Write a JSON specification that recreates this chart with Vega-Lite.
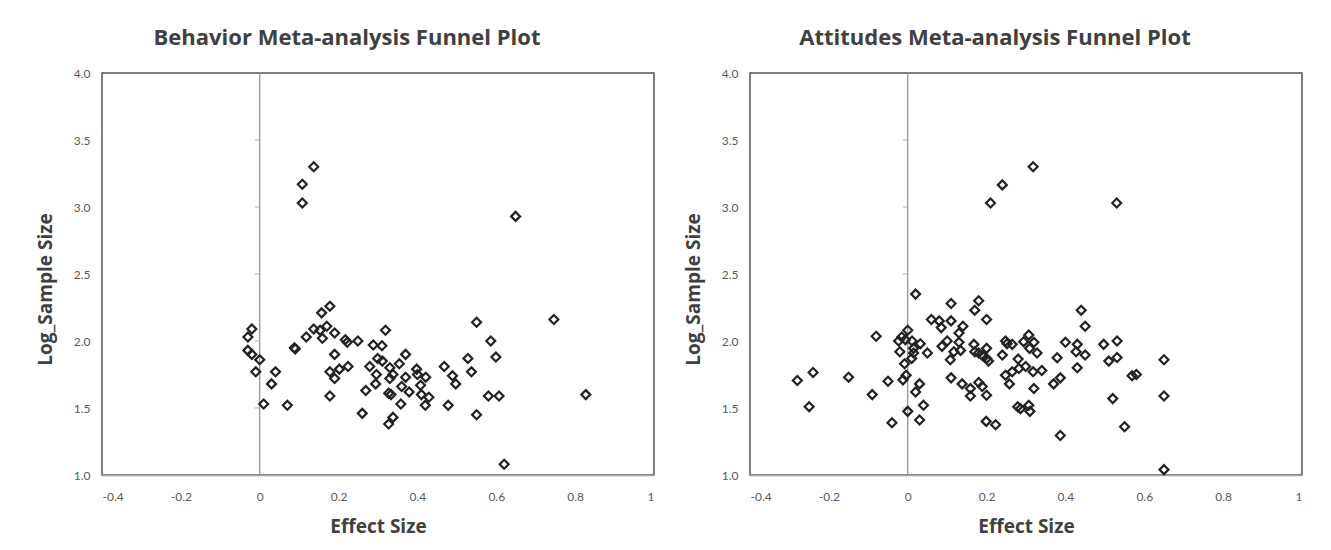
{
  "$schema": "https://vega.github.io/schema/vega-lite/v6.json",
  "background": "white",
  "padding": {"left": 35, "top": 26, "right": 5, "bottom": 5},
  "config": {
    "view": {"stroke": "#555555", "strokeWidth": 1.5},
    "font": "Open Sans",
    "axis": {"labelFont": "Lato", "labelFontSize": 12, "labelColor": "#595959", "titleFont": "Open Sans", "titleFontSize": 19, "titleFontWeight": "bold", "titleColor": "#404040", "grid": false},
    "title": {"font": "Open Sans", "fontSize": 22, "fontWeight": "bold", "color": "#404040", "anchor": "middle", "frame": "group", "dx": -31, "offset": 17}
  },
  "datasets": {
    "yticks": [{"v": 1.5}, {"v": 2.0}, {"v": 2.5}, {"v": 3.0}, {"v": 3.5}],
    "behavior": [
      {"es": -0.02, "ls": 2.09}, {"es": -0.03, "ls": 2.03}, {"es": -0.03, "ls": 1.93}, {"es": -0.02, "ls": 1.90},
      {"es": 0.0, "ls": 1.86}, {"es": -0.01, "ls": 1.77}, {"es": 0.04, "ls": 1.77}, {"es": 0.03, "ls": 1.68},
      {"es": 0.01, "ls": 1.53}, {"es": 0.07, "ls": 1.52}, {"es": 0.088, "ls": 1.95}, {"es": 0.09, "ls": 1.94},
      {"es": 0.118, "ls": 2.03}, {"es": 0.137, "ls": 2.09}, {"es": 0.153, "ls": 2.08}, {"es": 0.157, "ls": 2.21},
      {"es": 0.178, "ls": 2.26}, {"es": 0.17, "ls": 2.11}, {"es": 0.159, "ls": 2.02}, {"es": 0.19, "ls": 2.06},
      {"es": 0.217, "ls": 2.01}, {"es": 0.222, "ls": 1.99}, {"es": 0.249, "ls": 2.00}, {"es": 0.19, "ls": 1.90},
      {"es": 0.178, "ls": 1.77}, {"es": 0.19, "ls": 1.72}, {"es": 0.202, "ls": 1.79}, {"es": 0.224, "ls": 1.81},
      {"es": 0.178, "ls": 1.59}, {"es": 0.319, "ls": 2.08}, {"es": 0.288, "ls": 1.97}, {"es": 0.31, "ls": 1.965},
      {"es": 0.299, "ls": 1.87}, {"es": 0.311, "ls": 1.85}, {"es": 0.279, "ls": 1.81}, {"es": 0.296, "ls": 1.75},
      {"es": 0.33, "ls": 1.80}, {"es": 0.338, "ls": 1.75}, {"es": 0.33, "ls": 1.72}, {"es": 0.294, "ls": 1.68},
      {"es": 0.269, "ls": 1.63}, {"es": 0.327, "ls": 1.61}, {"es": 0.333, "ls": 1.60}, {"es": 0.354, "ls": 1.83},
      {"es": 0.37, "ls": 1.90}, {"es": 0.37, "ls": 1.73}, {"es": 0.36, "ls": 1.66}, {"es": 0.379, "ls": 1.62},
      {"es": 0.358, "ls": 1.53}, {"es": 0.398, "ls": 1.79}, {"es": 0.40, "ls": 1.75}, {"es": 0.421, "ls": 1.73},
      {"es": 0.408, "ls": 1.67}, {"es": 0.41, "ls": 1.60}, {"es": 0.429, "ls": 1.58}, {"es": 0.42, "ls": 1.52},
      {"es": 0.26, "ls": 1.46}, {"es": 0.338, "ls": 1.43}, {"es": 0.327, "ls": 1.38}, {"es": 0.468, "ls": 1.81},
      {"es": 0.489, "ls": 1.74}, {"es": 0.497, "ls": 1.68}, {"es": 0.478, "ls": 1.52}, {"es": 0.649, "ls": 2.93},
      {"es": 0.55, "ls": 2.14}, {"es": 0.746, "ls": 2.16}, {"es": 0.586, "ls": 2.00}, {"es": 0.528, "ls": 1.87},
      {"es": 0.599, "ls": 1.88}, {"es": 0.537, "ls": 1.77}, {"es": 0.58, "ls": 1.59}, {"es": 0.607, "ls": 1.59},
      {"es": 0.827, "ls": 1.60}, {"es": 0.55, "ls": 1.45}, {"es": 0.62, "ls": 1.08}, {"es": 0.137, "ls": 3.30},
      {"es": 0.108, "ls": 3.17}, {"es": 0.108, "ls": 3.03}
    ],
    "attitudes": [
      {"es": 0.21, "ls": 3.03}, {"es": 0.24, "ls": 3.165}, {"es": 0.318, "ls": 3.30}, {"es": 0.53, "ls": 3.03},
      {"es": -0.28, "ls": 1.705}, {"es": -0.25, "ls": 1.51}, {"es": -0.24, "ls": 1.765}, {"es": -0.15, "ls": 1.73},
      {"es": -0.09, "ls": 1.60}, {"es": -0.08, "ls": 2.035}, {"es": -0.05, "ls": 1.70}, {"es": -0.04, "ls": 1.39},
      {"es": 0.02, "ls": 2.35}, {"es": 0.11, "ls": 2.28}, {"es": 0.18, "ls": 2.30}, {"es": 0.17, "ls": 2.23},
      {"es": 0.20, "ls": 2.16}, {"es": 0.06, "ls": 2.16}, {"es": 0.08, "ls": 2.15}, {"es": 0.085, "ls": 2.10},
      {"es": 0.11, "ls": 2.15}, {"es": 0.14, "ls": 2.11}, {"es": 0.13, "ls": 2.06}, {"es": 0.0, "ls": 2.08},
      {"es": -0.015, "ls": 2.03}, {"es": -0.023, "ls": 2.0}, {"es": -0.006, "ls": 2.01}, {"es": 0.011, "ls": 2.0},
      {"es": 0.032, "ls": 1.98}, {"es": -0.02, "ls": 1.92}, {"es": 0.015, "ls": 1.945}, {"es": 0.015, "ls": 1.91},
      {"es": 0.05, "ls": 1.91}, {"es": -0.008, "ls": 1.83}, {"es": 0.10, "ls": 2.0}, {"es": 0.087, "ls": 1.96},
      {"es": 0.13, "ls": 1.99}, {"es": 0.134, "ls": 1.93}, {"es": 0.117, "ls": 1.92}, {"es": 0.108, "ls": 1.86},
      {"es": 0.168, "ls": 1.975}, {"es": 0.17, "ls": 1.92}, {"es": 0.18, "ls": 1.91}, {"es": 0.19, "ls": 1.89},
      {"es": 0.20, "ls": 1.87}, {"es": 0.205, "ls": 1.85}, {"es": 0.20, "ls": 1.945}, {"es": 0.24, "ls": 1.895},
      {"es": 0.248, "ls": 2.0}, {"es": 0.252, "ls": 1.98}, {"es": 0.265, "ls": 1.975}, {"es": 0.307, "ls": 2.045},
      {"es": 0.294, "ls": 1.995}, {"es": 0.32, "ls": 1.99}, {"es": 0.309, "ls": 1.945}, {"es": 0.328, "ls": 1.91},
      {"es": 0.28, "ls": 1.865}, {"es": 0.299, "ls": 1.81}, {"es": 0.282, "ls": 1.795}, {"es": 0.265, "ls": 1.77},
      {"es": 0.248, "ls": 1.745}, {"es": 0.258, "ls": 1.68}, {"es": 0.34, "ls": 1.78}, {"es": 0.318, "ls": 1.77},
      {"es": 0.32, "ls": 1.645}, {"es": 0.279, "ls": 1.51}, {"es": 0.286, "ls": 1.495}, {"es": 0.307, "ls": 1.52},
      {"es": 0.31, "ls": 1.475}, {"es": 0.199, "ls": 1.40}, {"es": 0.223, "ls": 1.375}, {"es": 0.11, "ls": 1.725},
      {"es": 0.138, "ls": 1.68}, {"es": 0.159, "ls": 1.645}, {"es": 0.159, "ls": 1.59}, {"es": 0.18, "ls": 1.69},
      {"es": 0.189, "ls": 1.66}, {"es": 0.20, "ls": 1.595}, {"es": -0.004, "ls": 1.745}, {"es": -0.012, "ls": 1.71},
      {"es": 0.03, "ls": 1.68}, {"es": 0.02, "ls": 1.62}, {"es": 0.0, "ls": 1.475}, {"es": 0.04, "ls": 1.52},
      {"es": 0.03, "ls": 1.41}, {"es": 0.379, "ls": 1.875}, {"es": 0.40, "ls": 1.99}, {"es": 0.37, "ls": 1.68},
      {"es": 0.387, "ls": 1.725}, {"es": 0.387, "ls": 1.295}, {"es": 0.01, "ls": 1.87}, {"es": 0.44, "ls": 2.23},
      {"es": 0.45, "ls": 2.11}, {"es": 0.43, "ls": 1.975}, {"es": 0.427, "ls": 1.92}, {"es": 0.45, "ls": 1.895},
      {"es": 0.43, "ls": 1.80}, {"es": 0.497, "ls": 1.975}, {"es": 0.531, "ls": 2.0}, {"es": 0.51, "ls": 1.85},
      {"es": 0.531, "ls": 1.877}, {"es": 0.569, "ls": 1.74}, {"es": 0.58, "ls": 1.75}, {"es": 0.65, "ls": 1.86},
      {"es": 0.65, "ls": 1.59}, {"es": 0.65, "ls": 1.04}, {"es": 0.52, "ls": 1.57}, {"es": 0.55, "ls": 1.36}
    ]
  },
  "spacing": 28,
  "hconcat": [
    {
      "width": 552, "height": 402,
      "title": {"text": "Behavior Meta-analysis Funnel Plot"},
      "layer": [
        {
          "data": {"values": [{}]},
          "mark": {"type": "rule", "color": "#8c8c8c", "strokeWidth": 1.2},
          "encoding": {"x": {"datum": 0, "type": "quantitative", "title": "Effect Size"}}
        },
        {
          "data": {"name": "yticks"},
          "mark": {"type": "tick", "orient": "horizontal", "color": "#8c8c8c", "size": 5, "thickness": 1, "xOffset": -2.5},
          "encoding": {
            "x": {"datum": 0, "type": "quantitative", "title": "Effect Size"},
            "y": {"field": "v", "type": "quantitative", "title": "Log_Sample Size"}
          }
        },
        {
          "data": {"name": "behavior"},
          "mark": {"type": "point", "shape": "diamond", "filled": false, "size": 80, "strokeWidth": 2.2, "color": "#222222", "opacity": 1},
          "encoding": {
            "x": {"field": "es", "type": "quantitative", "title": "Effect Size",
              "scale": {"domain": [-0.4, 1], "nice": false, "zero": false},
              "axis": {"values": [-0.4, -0.2, 0, 0.2, 0.4, 0.6, 0.8, 1], "labelExpr": "'' + datum.value", "ticks": false, "domainColor": "#a6a6a6", "domainWidth": 1.5, "labelPadding": 16, "titlePadding": 15}},
            "y": {"field": "ls", "type": "quantitative", "title": "Log_Sample Size",
              "scale": {"domain": [1, 4], "nice": false, "zero": false},
              "axis": {"values": [1, 1.5, 2, 2.5, 3, 3.5, 4], "format": ".1f", "ticks": false, "tickSize": 0, "domain": false, "labelPadding": 12, "titlePadding": 18, "titleY": 216}}
          }
        }
      ]
    },
    {
      "width": 552, "height": 402,
      "title": {"text": "Attitudes Meta-analysis Funnel Plot"},
      "layer": [
        {
          "data": {"values": [{}]},
          "mark": {"type": "rule", "color": "#8c8c8c", "strokeWidth": 1.2},
          "encoding": {"x": {"datum": 0, "type": "quantitative", "title": "Effect Size"}}
        },
        {
          "data": {"name": "yticks"},
          "mark": {"type": "tick", "orient": "horizontal", "color": "#8c8c8c", "size": 5, "thickness": 1, "xOffset": -2.5},
          "encoding": {
            "x": {"datum": 0, "type": "quantitative", "title": "Effect Size"},
            "y": {"field": "v", "type": "quantitative", "title": "Log_Sample Size"}
          }
        },
        {
          "data": {"name": "attitudes"},
          "mark": {"type": "point", "shape": "diamond", "filled": false, "size": 80, "strokeWidth": 2.2, "color": "#222222", "opacity": 1},
          "encoding": {
            "x": {"field": "es", "type": "quantitative", "title": "Effect Size",
              "scale": {"domain": [-0.4, 1], "nice": false, "zero": false},
              "axis": {"values": [-0.4, -0.2, 0, 0.2, 0.4, 0.6, 0.8, 1], "labelExpr": "'' + datum.value", "ticks": false, "domainColor": "#a6a6a6", "domainWidth": 1.5, "labelPadding": 16, "titlePadding": 15}},
            "y": {"field": "ls", "type": "quantitative", "title": "Log_Sample Size",
              "scale": {"domain": [1, 4], "nice": false, "zero": false},
              "axis": {"values": [1, 1.5, 2, 2.5, 3, 3.5, 4], "format": ".1f", "ticks": false, "tickSize": 0, "domain": false, "labelPadding": 12, "titlePadding": 18, "titleY": 216}}
          }
        }
      ]
    }
  ]
}
